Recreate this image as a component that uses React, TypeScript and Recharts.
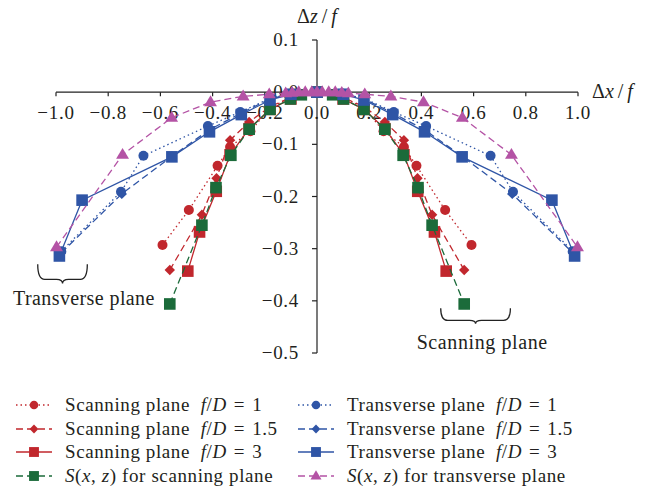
import React from 'react';
import {
  ScatterChart, Scatter, XAxis, YAxis, ReferenceLine, ReferenceDot, ReferenceArea,
} from 'recharts';

// ---- data ----
const scan1X = [-0.592, -0.491, -0.381, -0.333, -0.255, -0.18, -0.1, 0, 0.1, 0.18, 0.255, 0.333, 0.381, 0.491, 0.592];
const scan1Y = [-0.293, -0.226, -0.141, -0.105, -0.075, -0.03, -0.01, 0, -0.01, -0.03, -0.075, -0.105, -0.141, -0.226, -0.293];

const scan15X = [-0.564, -0.441, -0.385, -0.333, -0.26, -0.18, -0.1, 0, 0.1, 0.18, 0.26, 0.333, 0.385, 0.441, 0.564];
const scan15Y = [-0.341, -0.235, -0.165, -0.092, -0.057, -0.028, -0.01, 0, -0.01, -0.028, -0.057, -0.092, -0.165, -0.235, -0.341];

const scan3X = [-0.495, -0.45, -0.386, -0.333, -0.26, -0.18, -0.1, 0, 0.1, 0.18, 0.26, 0.333, 0.386, 0.45, 0.495];
const scan3Y = [-0.343, -0.268, -0.19, -0.12, -0.07, -0.033, -0.013, 0, -0.013, -0.033, -0.07, -0.12, -0.19, -0.268, -0.343];

const sScanX = [-0.564, -0.441, -0.387, -0.33, -0.26, -0.18, -0.102, -0.06, 0, 0.06, 0.102, 0.18, 0.26, 0.33, 0.387, 0.441, 0.564];
const sScanY = [-0.406, -0.255, -0.183, -0.121, -0.071, -0.033, -0.013, -0.005, 0, -0.005, -0.013, -0.033, -0.071, -0.121, -0.183, -0.255, -0.406];

const trans1X = [-0.98, -0.751, -0.665, -0.418, -0.294, -0.18, -0.1, 0, 0.1, 0.18, 0.294, 0.418, 0.665, 0.751, 0.98];
const trans1Y = [-0.305, -0.191, -0.122, -0.065, -0.038, -0.012, -0.003, 0, -0.003, -0.012, -0.038, -0.065, -0.122, -0.191, -0.305];

const trans15X = [-0.98, -0.748, -0.556, -0.412, -0.29, -0.18, -0.1, 0, 0.1, 0.18, 0.29, 0.412, 0.556, 0.748, 0.98];
const trans15Y = [-0.308, -0.195, -0.123, -0.072, -0.04, -0.013, -0.003, 0, -0.003, -0.013, -0.04, -0.072, -0.123, -0.195, -0.308];

const trans3X = [-0.987, -0.9, -0.556, -0.412, -0.29, -0.18, -0.1, 0, 0.1, 0.18, 0.29, 0.412, 0.556, 0.9, 0.987];
const trans3Y = [-0.314, -0.207, -0.124, -0.076, -0.043, -0.015, -0.004, 0, -0.004, -0.015, -0.043, -0.076, -0.124, -0.207, -0.314];

const sTransX = [-0.998, -0.745, -0.557, -0.408, -0.283, -0.183, -0.12, -0.095, -0.07, -0.045, -0.02, 0, 0.02, 0.045, 0.07, 0.095, 0.12, 0.183, 0.283, 0.408, 0.557, 0.745, 0.998];
const sTransY = [-0.297, -0.12, -0.049, -0.019, -0.008, -0.004, -0.002, -0.001, 0, 0, 0, 0, 0, 0, 0, -0.001, -0.002, -0.004, -0.008, -0.019, -0.049, -0.12, -0.297];

const xTicks = [-1.0, -0.8, -0.6, -0.4, -0.2, 0.0, 0.2, 0.4, 0.6, 0.8, 1.0];
const yTicks = [0.1, 0.0, -0.1, -0.2, -0.3, -0.4, -0.5];

const RED = '#c1272d';
const GREEN = '#1b6b3a';
const BLUE = '#2f55a6';
const MAGENTA = '#b453a5';
const INK = '#231f20';
const FONT = '"Liberation Serif", "DejaVu Serif", serif';

const zip = (xs: number[], ys: number[]) => xs.map((x, i) => ({ x, y: ys[i] }));
const fmt = (t: number) => (t < 0 ? '\u2212' + Math.abs(t).toFixed(1) : t.toFixed(1));

type Marker = 'circle' | 'diamond' | 'square' | 'triangle';

const MarkerShape = ({ kind, cx, cy, color, s = 1 }: { kind: Marker; cx: number; cy: number; color: string; s?: number }) => {
  if (kind === 'circle') return <circle cx={cx} cy={cy} r={5 * s} fill={color} />;
  if (kind === 'diamond') {
    const r = 5.2 * s;
    return <polygon points={`${cx},${cy - r} ${cx + r},${cy} ${cx},${cy + r} ${cx - r},${cy}`} fill={color} />;
  }
  if (kind === 'square') {
    const h = 5.8 * s;
    return <rect x={cx - h} y={cy - h} width={2 * h} height={2 * h} fill={color} />;
  }
  const r = 6.8 * s;
  return <polygon points={`${cx},${cy - r} ${cx + r * 0.95},${cy + r * 0.6} ${cx - r * 0.95},${cy + r * 0.6}`} fill={color} />;
};

const SERIES = [
  { key: 'scan1', data: zip(scan1X, scan1Y), color: RED, dash: '1.5 3', marker: 'circle' as Marker },
  { key: 'scan15', data: zip(scan15X, scan15Y), color: RED, dash: '7 4', marker: 'diamond' as Marker },
  { key: 'scan3', data: zip(scan3X, scan3Y), color: RED, dash: undefined, marker: 'square' as Marker },
  { key: 'sScan', data: zip(sScanX, sScanY), color: GREEN, dash: '7 4', marker: 'square' as Marker },
  { key: 'trans1', data: zip(trans1X, trans1Y), color: BLUE, dash: '1.5 3', marker: 'circle' as Marker },
  { key: 'trans15', data: zip(trans15X, trans15Y), color: BLUE, dash: '7 4', marker: 'diamond' as Marker },
  { key: 'trans3', data: zip(trans3X, trans3Y), color: BLUE, dash: undefined, marker: 'square' as Marker },
  { key: 'sTrans', data: zip(sTransX, sTransY), color: MAGENTA, dash: '7 4', marker: 'triangle' as Marker },
];

const I = ({ children }: { children: React.ReactNode }) => <span style={{ fontStyle: 'italic' }}>{children}</span>;
const EQ = <span style={{ margin: '0 7px' }}>=</span>;

const LEGEND = [
  { s: 0, label: <>Scanning plane&nbsp; <I>f</I>/<I>D</I>{EQ}1</> },
  { s: 4, label: <>Transverse plane&nbsp; <I>f</I>/<I>D</I>{EQ}1</> },
  { s: 1, label: <>Scanning plane&nbsp; <I>f</I>/<I>D</I>{EQ}1.5</> },
  { s: 5, label: <>Transverse plane&nbsp; <I>f</I>/<I>D</I>{EQ}1.5</> },
  { s: 2, label: <>Scanning plane&nbsp; <I>f</I>/<I>D</I>{EQ}3</> },
  { s: 6, label: <>Transverse plane&nbsp; <I>f</I>/<I>D</I>{EQ}3</> },
  { s: 3, label: <><I>S</I>(<I>x</I>, <I>z</I>) for scanning plane</> },
  { s: 7, label: <><I>S</I>(<I>x</I>, <I>z</I>) for transverse plane</> },
];

const Brace = (props: any) => {
  const { x, y, width, height } = props;
  const x1 = x, x2 = x + width, top = y, bot = y + height;
  const mid = top + height * 0.78;
  const c = x + width / 2;
  const d = `M${x1},${top} Q${x1},${mid} ${x1 + 7},${mid} L${c - 6},${mid} Q${c},${mid} ${c},${bot} Q${c},${mid} ${c + 6},${mid} L${x2 - 7},${mid} Q${x2},${mid} ${x2},${top}`;
  return <path d={d} fill="none" stroke="#222" strokeWidth={1.3} />;
};

export default function App() {
  return (
    <div style={{ position: 'absolute', left: 0, top: 0, width: 652, height: 489, background: '#fff', fontFamily: FONT }}>
      <ScatterChart width={652} height={489} margin={{ top: 40, right: 74, bottom: 136, left: 56 }}>
        <XAxis dataKey="x" type="number" domain={[-1, 1]} hide />
        <YAxis dataKey="y" type="number" domain={[-0.5, 0.1]} hide />
        <ReferenceLine segment={[{ x: -1, y: 0 }, { x: 1, y: 0 }]} stroke="#222" strokeWidth={1.2} />
        <ReferenceLine segment={[{ x: 0, y: 0.1 }, { x: 0, y: -0.5 }]} stroke="#222" strokeWidth={1.2} />
        {xTicks.map((t) => (
          <ReferenceDot key={'xt' + t} x={t} y={0} r={0}
            shape={(p: any) => (
              <g>
                <line x1={p.cx} y1={p.cy} x2={p.cx} y2={p.cy + 4} stroke="#222" strokeWidth={1.2} />
                <text x={p.cx} y={p.cy + 27} textAnchor="middle" fontSize={19} letterSpacing={0.7} fontFamily={FONT} fill={INK}>
                  {fmt(t)}
                </text>
              </g>
            )} />
        ))}
        {yTicks.map((t) => (
          <ReferenceDot key={'yt' + t} x={0} y={t} r={0}
            shape={(p: any) => (
              <g>
                <line x1={p.cx - 5} y1={p.cy} x2={p.cx} y2={p.cy} stroke="#222" strokeWidth={1.2} />
                <text x={p.cx - 18} y={p.cy + 6} textAnchor="end" fontSize={19} letterSpacing={0.7} fontFamily={FONT} fill={INK}>
                  {fmt(t)}
                </text>
              </g>
            )} />
        ))}
        <ReferenceDot x={0} y={0.1} r={0}
          shape={(p: any) => (
            <text x={p.cx} y={p.cy - 17} textAnchor="middle" fontSize={20} fontFamily={FONT} fill={INK}>
              Δ<tspan fontStyle="italic">z</tspan>{'\u2009'}/{'\u2009'}<tspan fontStyle="italic">f</tspan>
            </text>
          )} />
        <ReferenceDot x={1} y={0} r={0}
          shape={(p: any) => (
            <text x={p.cx + 14} y={p.cy + 6} textAnchor="start" fontSize={20} fontFamily={FONT} fill={INK}>
              Δ<tspan fontStyle="italic">x</tspan>{'\u2009'}/{'\u2009'}<tspan fontStyle="italic">f</tspan>
            </text>
          )} />
        <ReferenceArea x1={-1.07} x2={-0.88} y1={-0.33} y2={-0.367} ifOverflow="visible" shape={Brace} />
        <ReferenceArea x1={0.474} x2={0.741} y1={-0.414} y2={-0.444} ifOverflow="visible" shape={Brace} />
        <ReferenceDot x={-0.893} y={-0.397} r={0} ifOverflow="visible"
          shape={(p: any) => (
            <text x={p.cx} y={p.cy + 6} textAnchor="middle" fontSize={20} letterSpacing={0.4} fontFamily={FONT} fill={INK}>Transverse plane</text>
          )} />
        <ReferenceDot x={0.633} y={-0.481} r={0} ifOverflow="visible"
          shape={(p: any) => (
            <text x={p.cx} y={p.cy + 6} textAnchor="middle" fontSize={20} letterSpacing={0.6} fontFamily={FONT} fill={INK}>Scanning plane</text>
          )} />
        {SERIES.map((s) => (
          <Scatter key={s.key} name={s.key} data={s.data} isAnimationActive={false}
            line={{ stroke: s.color, strokeWidth: 1.3, strokeDasharray: s.dash }}
            lineType="joint"
            shape={(p: any) => <MarkerShape kind={s.marker} cx={p.cx} cy={p.cy} color={s.color} />} />
        ))}
      </ScatterChart>
      {LEGEND.map((item, i) => {
        const s = SERIES[item.s];
        const col = i % 2;
        const row = Math.floor(i / 2);
        const left = col === 0 ? 15 : 297;
        const top = 405 + row * 23.5 - 11;
        return (
          <div key={i} style={{ position: 'absolute', left, top, height: 22, display: 'flex', alignItems: 'center', whiteSpace: 'nowrap', fontSize: 19, letterSpacing: 0.6, color: INK, fontFamily: FONT }}>
            <svg width={38} height={14} style={{ marginRight: 12 }}>
              <line x1={1} y1={7} x2={37} y2={7} stroke={s.color} strokeWidth={1.3} strokeDasharray={s.dash} />
              <MarkerShape kind={s.marker} cx={19} cy={7} color={s.color} s={0.85} />
            </svg>
            <span>{item.label}</span>
          </div>
        );
      })}
    </div>
  );
}
